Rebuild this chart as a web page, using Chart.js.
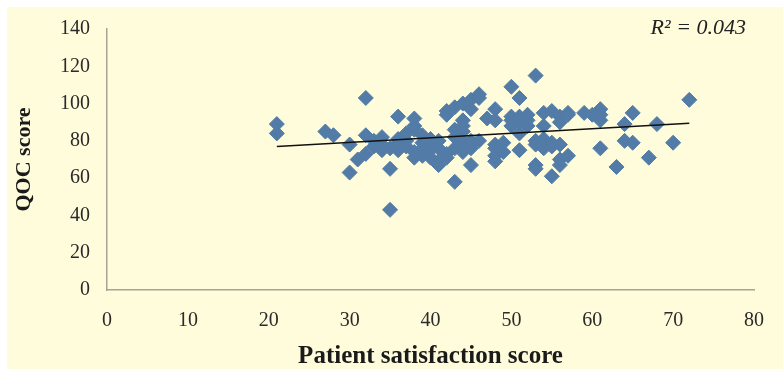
<!DOCTYPE html>
<html>
<head>
<meta charset="utf-8">
<script src="https://cdn.jsdelivr.net/npm/chart.js@4.4.1/dist/chart.umd.min.js"></script>
<style>
  body { margin: 0; background: #ffffff; }
  #wrap { width: 783px; height: 376px; }
</style>
</head>
<body>
<div id="wrap"><canvas id="qocChart" width="783" height="376"></canvas></div>
<script>
// patient satisfaction score (x) and QOC score (y)
const patientScore = [
    21, 21, 27, 28, 30, 30, 31, 32, 32, 32, 33, 34, 34, 35, 35, 35, 36, 36, 36, 37,
    37, 37, 38, 38, 38, 38, 38, 39, 39, 39, 40, 40, 40, 40, 41, 41, 41, 41, 42, 42,
    42, 42, 43, 43, 43, 43, 43, 44, 44, 44, 44, 44, 44, 44, 45, 45, 45, 45, 45, 45,
    46, 46, 47, 48, 48, 48, 48, 48, 48, 49, 49, 50, 50, 50, 51, 51, 51, 51, 51, 52,
    52, 53, 53, 53, 53, 53, 54, 54, 54, 54, 55, 55, 55, 55, 56, 56, 56, 56, 56, 57,
    57, 57, 59, 60, 61, 61, 61, 61, 63, 64, 64, 65, 65, 67, 68, 70, 72, 52, 50, 46,
    39, 36, 33, 34
];
const qocScore = [
    89, 84, 85, 83, 78, 63, 70, 73, 103, 83, 80, 82, 78, 43, 65, 76, 93, 81, 79, 84,
    80, 77, 92, 88, 86, 74, 71, 72, 79, 83, 81, 75, 71, 78, 80, 76, 69, 67, 94, 73,
    71, 96, 98, 58, 82, 76, 86, 100, 91, 85, 80, 78, 74, 88, 102, 97, 80, 67, 76, 78,
    105, 103, 92, 97, 91, 78, 76, 72, 69, 79, 74, 109, 93, 91, 103, 93, 84, 75, 90, 91,
    94, 115, 80, 67, 65, 78, 95, 88, 76, 81, 61, 79, 96, 77, 93, 90, 78, 70, 67, 95,
    72, 94, 95, 94, 97, 91, 94, 76, 66, 89, 80, 95, 79, 71, 89, 79, 102, 88, 88, 80,
    76, 75, 77, 75
];

// linear trend line ends (as drawn in the picture)
const trendX = [21, 72];
const trendY = [77, 89.5];
const rSquared = 'R² = 0.043';

const points = patientScore.map((x, i) => ({ x: x, y: qocScore[i] }));
const trend = trendX.map((x, i) => ({ x: x, y: trendY[i] }));

// yellow panel behind the chart and the R² label
const panelPlugin = {
    id: 'panel',
    beforeDraw(chart) {
        const ctx = chart.ctx;
        ctx.save();
        ctx.fillStyle = '#fffcdc';
        ctx.fillRect(7, 7, 776, 362);
        ctx.restore();
    },
    afterDraw(chart) {
        const ctx = chart.ctx;
        ctx.save();
        ctx.font = 'italic 22px "Liberation Serif"';
        ctx.fillStyle = '#222222';
        ctx.textAlign = 'right';
        ctx.textBaseline = 'middle';
        ctx.fillText(rSquared, 746, 28);
        ctx.restore();
    }
};

const serif = '"Liberation Serif", "DejaVu Serif", serif';

new Chart(document.getElementById('qocChart'), {
    type: 'scatter',
    data: {
        datasets: [
            {
                type: 'line',
                data: trend,
                borderColor: '#111111',
                borderWidth: 1.5,
                pointRadius: 0,
                fill: false,
                order: 0
            },
            {
                data: points,
                backgroundColor: '#527ca7',
                borderColor: '#527ca7',
                borderWidth: 1,
                pointStyle: 'rectRot',
                pointRadius: 7.5,
                order: 1
            }
        ]
    },
    options: {
        responsive: false,
        animation: false,
        events: [],
        layout: { padding: { left: 0, top: 20, right: 24, bottom: 0 } },
        plugins: {
            legend: { display: false },
            tooltip: { enabled: false }
        },
        scales: {
            x: {
                type: 'linear',
                min: 0,
                max: 80,
                ticks: {
                    stepSize: 10,
                    padding: 19,
                    color: '#2a2a2a',
                    font: { family: serif, size: 20 }
                },
                grid: { display: false, drawTicks: false },
                border: { display: true, color: '#a8a494', width: 1.5 },
                title: {
                    display: true,
                    text: 'Patient satisfaction score',
                    color: '#1a1a1a',
                    font: { family: serif, size: 25, weight: 'bold' },
                    padding: { top: 0, bottom: 4 }
                },
                afterFit(scale) { scale.height = 86; }
            },
            y: {
                type: 'linear',
                min: 0,
                max: 140,
                ticks: {
                    stepSize: 20,
                    padding: 17,
                    color: '#2a2a2a',
                    font: { family: serif, size: 20 }
                },
                grid: { display: false, drawTicks: false },
                border: { display: true, color: '#a8a494', width: 1.5 },
                title: {
                    display: true,
                    text: 'QOC score',
                    color: '#1a1a1a',
                    font: { family: serif, size: 22, weight: 'bold' },
                    padding: { top: 11, bottom: 0 }
                },
                afterFit(scale) { scale.width = 107; }
            }
        }
    },
    plugins: [panelPlugin]
});
</script>
</body>
</html>
